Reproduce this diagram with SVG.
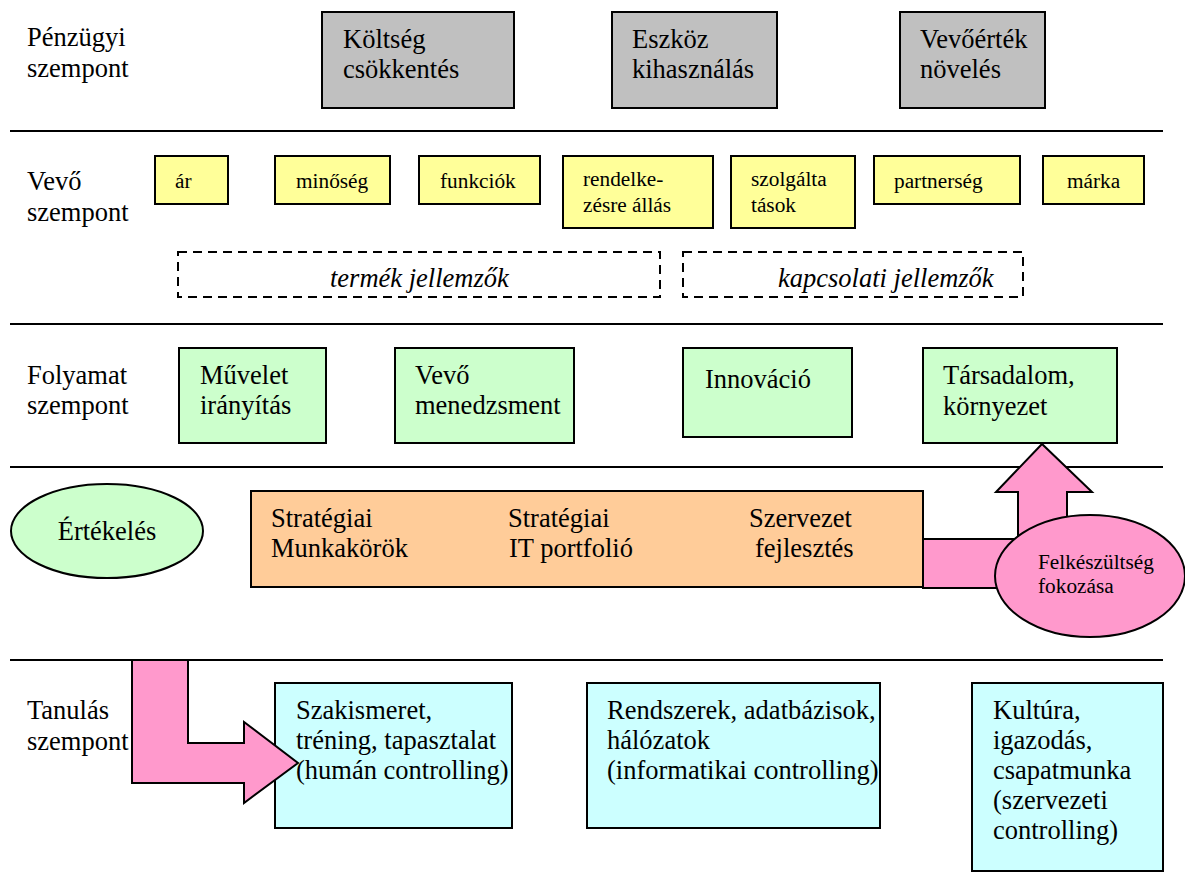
<svg xmlns="http://www.w3.org/2000/svg" width="1185" height="872" viewBox="0 0 1185 872">
  <style>
    text { font-family: "Liberation Serif", "Noto Serif", "Tinos", "FreeSerif", "Times New Roman", Times, "DejaVu Serif", serif; fill: #000; }
    .lg { font-size: 26.5px; }
    .sm { font-size: 21.3px; }
    .it { font-size: 26.5px; font-style: italic; }
    .sep { stroke: #000; stroke-width: 2; }
    .box { stroke: #000; stroke-width: 2; }
    .gray { fill: #c0c0c0; }
    .yel { fill: #ffff99; }
    .grn { fill: #ccffcc; }
    .org { fill: #ffcc99; }
    .cyan { fill: #ccffff; }
    .pink { fill: #ff99cc; stroke: #000; stroke-width: 2; stroke-linejoin: miter; }
    .dash { fill: none; stroke: #000; stroke-width: 2; stroke-dasharray: 9 6; }
  </style>

  <!-- perspective separators -->
  <g id="separators">
    <line class="sep" x1="10" y1="131" x2="1163" y2="131"/>
    <line class="sep" x1="10" y1="324" x2="1163" y2="324"/>
    <line class="sep" x1="10" y1="467" x2="1163" y2="467"/>
    <line class="sep" x1="10" y1="660" x2="1163" y2="660"/>
  </g>

  <!-- row labels -->
  <g id="labels">
    <text x="27" y="46" class="lg">Pénzügyi</text>
    <text x="27" y="77" class="lg">szempont</text>
    <text x="27" y="190" class="lg">Vevő</text>
    <text x="27" y="221" class="lg">szempont</text>
    <text x="27" y="384" class="lg">Folyamat</text>
    <text x="27" y="414" class="lg">szempont</text>
    <text x="27" y="719" class="lg">Tanulás</text>
    <text x="27" y="750" class="lg">szempont</text>
  </g>

  <!-- financial perspective -->
  <g id="koltseg">
    <rect class="box gray" x="322" y="12" width="192" height="96"/>
    <text class="lg" x="343" y="48">Költség</text>
    <text class="lg" x="343" y="78">csökkentés</text>
  </g>
  <g id="eszkoz">
    <rect class="box gray" x="612" y="12" width="165" height="96"/>
    <text class="lg" x="632" y="48">Eszköz</text>
    <text class="lg" x="632" y="78">kihasználás</text>
  </g>
  <g id="vevoertek">
    <rect class="box gray" x="900" y="12" width="145" height="96"/>
    <text class="lg" x="920" y="48">Vevőérték</text>
    <text class="lg" x="920" y="78">növelés</text>
  </g>

  <!-- customer perspective -->
  <g id="ar">
    <rect class="box yel" x="155" y="156" width="73" height="48"/>
    <text class="sm" x="175" y="188">ár</text>
  </g>
  <g id="minoseg">
    <rect class="box yel" x="275" y="156" width="115" height="48"/>
    <text class="sm" x="296" y="188">minőség</text>
  </g>
  <g id="funkciok">
    <rect class="box yel" x="419" y="156" width="121" height="48"/>
    <text class="sm" x="440" y="188">funkciók</text>
  </g>
  <g id="rendelkezesre">
    <rect class="box yel" x="563" y="156" width="150" height="72"/>
    <text class="sm" x="583" y="186">rendelke-</text>
    <text class="sm" x="583" y="212">zésre állás</text>
  </g>
  <g id="szolgaltatasok">
    <rect class="box yel" x="731" y="156" width="124" height="72"/>
    <text class="sm" x="751" y="186">szolgálta</text>
    <text class="sm" x="751" y="212">tások</text>
  </g>
  <g id="partnerseg">
    <rect class="box yel" x="874" y="156" width="146" height="48"/>
    <text class="sm" x="894" y="188">partnerség</text>
  </g>
  <g id="marka">
    <rect class="box yel" x="1043" y="156" width="101" height="48"/>
    <text class="sm" x="1067" y="188">márka</text>
  </g>
  <g id="termek-jellemzok">
    <rect class="dash" x="178" y="252" width="482" height="45"/>
    <text class="it" x="330" y="287">termék jellemzők</text>
  </g>
  <g id="kapcsolati-jellemzok">
    <rect class="dash" x="683" y="252" width="340" height="45"/>
    <text class="it" x="778" y="287">kapcsolati jellemzők</text>
  </g>

  <!-- process perspective -->
  <g id="muvelet">
    <rect class="box grn" x="179" y="348" width="147" height="95"/>
    <text class="lg" x="200" y="384">Művelet</text>
    <text class="lg" x="200" y="414">irányítás</text>
  </g>
  <g id="vevo-menedzsment">
    <rect class="box grn" x="395" y="348" width="179" height="95"/>
    <text class="lg" x="415" y="384">Vevő</text>
    <text class="lg" x="415" y="414">menedzsment</text>
  </g>
  <g id="innovacio">
    <rect class="box grn" x="683" y="348" width="169" height="89"/>
    <text class="lg" x="705" y="388">Innováció</text>
  </g>
  <g id="tarsadalom">
    <rect class="box grn" x="923" y="348" width="194" height="95"/>
    <text class="lg" x="943" y="384">Társadalom,</text>
    <text class="lg" x="943" y="415">környezet</text>
  </g>

  <!-- enablers -->
  <g id="ertekeles">
    <ellipse class="box grn" cx="107" cy="531" rx="96" ry="47"/>
    <text class="lg" x="107" y="540" text-anchor="middle">Értékelés</text>
  </g>
  <g id="strategiai">
    <rect class="box org" x="251" y="491" width="672" height="96"/>
    <text class="lg" x="271" y="527">Stratégiai</text>
    <text class="lg" x="271" y="557">Munkakörök</text>
    <text class="lg" x="508" y="527">Stratégiai</text>
    <text class="lg" x="509" y="557">IT portfolió</text>
    <text class="lg" x="749" y="527">Szervezet</text>
    <text class="lg" x="755" y="557">fejlesztés</text>
  </g>

  <!-- learning perspective -->
  <g id="szakismeret">
    <rect class="box cyan" x="275" y="683" width="237" height="145"/>
    <text class="lg" x="296" y="719">Szakismeret,</text>
    <text class="lg" x="296" y="749">tréning, tapasztalat</text>
    <text class="lg" x="296" y="779">(humán controlling)</text>
  </g>
  <g id="rendszerek">
    <rect class="box cyan" x="587" y="683" width="293" height="145"/>
    <text class="lg" x="607" y="719">Rendszerek, adatbázisok,</text>
    <text class="lg" x="607" y="749">hálózatok</text>
    <text class="lg" x="607" y="779">(informatikai controlling)</text>
  </g>
  <g id="kultura">
    <rect class="box cyan" x="972" y="683" width="191" height="188"/>
    <text class="lg" x="993" y="719">Kultúra,</text>
    <text class="lg" x="993" y="749">igazodás,</text>
    <text class="lg" x="993" y="779">csapatmunka</text>
    <text class="lg" x="993" y="809">(szervezeti</text>
    <text class="lg" x="993" y="839">controlling)</text>
  </g>

  <!-- connectors: block arrows -->
  <g id="connectors">
    <path class="pink" d="M923,539 H1018 V492 H996 L1042,444 L1092,492 H1067 V588 H923 Z"/>
    <path class="pink" d="M132,660 H188 V743 H244 V722 L298,763 L244,803 V783 H132 Z"/>
  </g>

  <g id="felkeszultseg">
    <ellipse class="pink" cx="1090" cy="576" rx="95" ry="61"/>
    <text class="sm" x="1038" y="569">Felkészültség</text>
    <text class="sm" x="1038" y="593">fokozása</text>
  </g>
</svg>
